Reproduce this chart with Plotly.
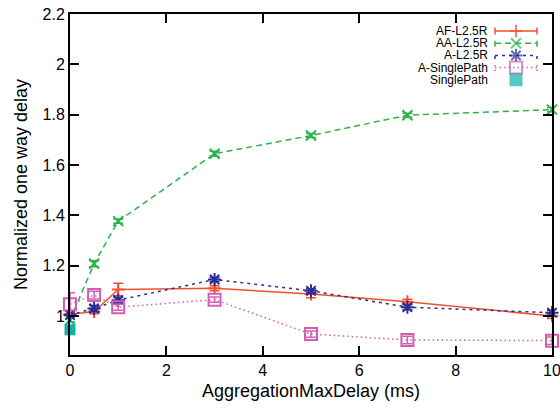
import plotly.graph_objects as go

x = [0, 0.5, 1, 3, 5, 7, 10]

af_y = [1.008, 1.017, 1.105, 1.11, 1.087, 1.057, 1.0]
af_err = [0.008, 0.008, 0.025, 0.01, 0.015, 0.01, 0.01]

aa_y = [0.984, 1.208, 1.377, 1.645, 1.717, 1.798, 1.82]
aa_err = [0.008, 0.012, 0.008, 0.01, 0.008, 0.008, 0.008]

a_y = [1.004, 1.03, 1.063, 1.145, 1.1, 1.035, 1.013]
a_err = [0.006, 0.012, 0.01, 0.008, 0.008, 0.01, 0.01]

asp_y = [1.047, 1.083, 1.035, 1.065, 0.928, 0.905, 0.902]
asp_err = [0.045, 0.015, 0.012, 0.01, 0.012, 0.015, 0.015]

sp_x = [0]
sp_y = [0.945]

names = ["AF-L2.5R", "AA-L2.5R", "A-L2.5R", "A-SinglePath", "SinglePath"]
colors = ["#F2502C", "#2DB34A", "#2B2E93", "#D45DB4", "#0FB2A4"]
dashes = ["solid", "6px,4px", "3px,4px", "1.5px,3px", None]
symbols = ["cross-thin", "x-thin", "asterisk", "square-open", "square"]
sizes = [9, 10, 11, 12, 11]

fig = go.Figure()

series = [(af_y, af_err), (aa_y, aa_err), (a_y, a_err), (asp_y, asp_err)]
for i, (ys, es) in enumerate(series):
    fig.add_trace(go.Scatter(
        x=x, y=ys, mode="lines+markers", name=names[i],
        line=dict(color=colors[i], width=1.5, dash=dashes[i]),
        marker=dict(symbol=symbols[i], size=sizes[i],
                    color=colors[i],
                    line=dict(color=colors[i], width=2)),
        error_y=dict(type="data", array=es, visible=True, color=colors[i],
                     thickness=1.5, width=5),
        showlegend=False, cliponaxis=False,
    ))

fig.add_trace(go.Scatter(
    x=sp_x, y=sp_y, mode="markers", name=names[4],
    marker=dict(symbol="square", size=sizes[4], color=colors[4],
                line=dict(width=0)),
    showlegend=False, cliponaxis=False,
))

# Manual legend (text left of sample, gnuplot style)
W, H, L, T = 482, 341, 70, 14
def fx(px):
    return (px - L) / W
def fy(py):
    return (T + H - py) / H

rows = [31, 43.2, 55.4, 67.6, 79.8]
x0, x1, xm = fx(495), fx(537), fx(516)
for i, name in enumerate(names):
    yy = fy(rows[i])
    fig.add_annotation(x=fx(489), y=yy, xref="paper", yref="paper",
                       text=name, showarrow=False, xanchor="right",
                       yanchor="middle", borderpad=0,
                       font=dict(family="Liberation Sans, Arial", size=12,
                                 color="black"))
    if i < 4:
        fig.add_shape(type="line", xref="paper", yref="paper",
                      x0=x0, x1=x1, y0=yy, y1=yy,
                      line=dict(color=colors[i], width=1.5,
                                dash=dashes[i]))
        for xe in (x0, x1):
            fig.add_shape(type="line", xref="paper", yref="paper",
                          x0=xe, x1=xe, y0=yy - 3.5 / H, y1=yy + 3.5 / H,
                          line=dict(color=colors[i], width=1.5,
                                    dash=dashes[i] if i > 0 else "solid"))

fig.add_trace(go.Scatter(
    x=[xm] * 5, y=[fy(r) for r in rows], mode="markers",
    xaxis="x2", yaxis="y2", showlegend=False, hoverinfo="skip",
    marker=dict(symbol=symbols, size=sizes, color=colors,
                line=dict(color=colors, width=2)),
))

axis_common = dict(
    showline=True, linecolor="black", linewidth=2, mirror="ticks",
    ticks="inside", ticklen=9, tickwidth=1.5, tickcolor="black",
    showgrid=False, zeroline=False, automargin=False,
    ticklabeloverflow="allow",
    tickfont=dict(family="Liberation Sans, Arial", size=16, color="black"),
)

fig.update_layout(
    width=560, height=411,
    margin=dict(l=L, r=8, t=T, b=56),
    paper_bgcolor="white", plot_bgcolor="white",
    showlegend=False,
    xaxis=dict(range=[0, 10], tickvals=[0, 2, 4, 6, 8, 10],
               title=dict(text="AggregationMaxDelay (ms)", standoff=6,
                          font=dict(family="Liberation Sans, Arial", size=18,
                                    color="black")),
               **axis_common),
    yaxis=dict(range=[0.845, 2.2],
               tickvals=[1.0, 1.2, 1.4, 1.6, 1.8, 2.0, 2.2],
               ticktext=["1", "1.2", "1.4", "1.6", "1.8", "2", "2.2"],
               title=dict(text="Normalized one way delay", standoff=10,
                          font=dict(family="Liberation Sans, Arial", size=18,
                                    color="black")),
               **axis_common),
    xaxis2=dict(range=[0, 1], overlaying="x", visible=False, domain=[0, 1]),
    yaxis2=dict(range=[0, 1], overlaying="y", visible=False, domain=[0, 1]),
)

fig.write_html("out.html")
